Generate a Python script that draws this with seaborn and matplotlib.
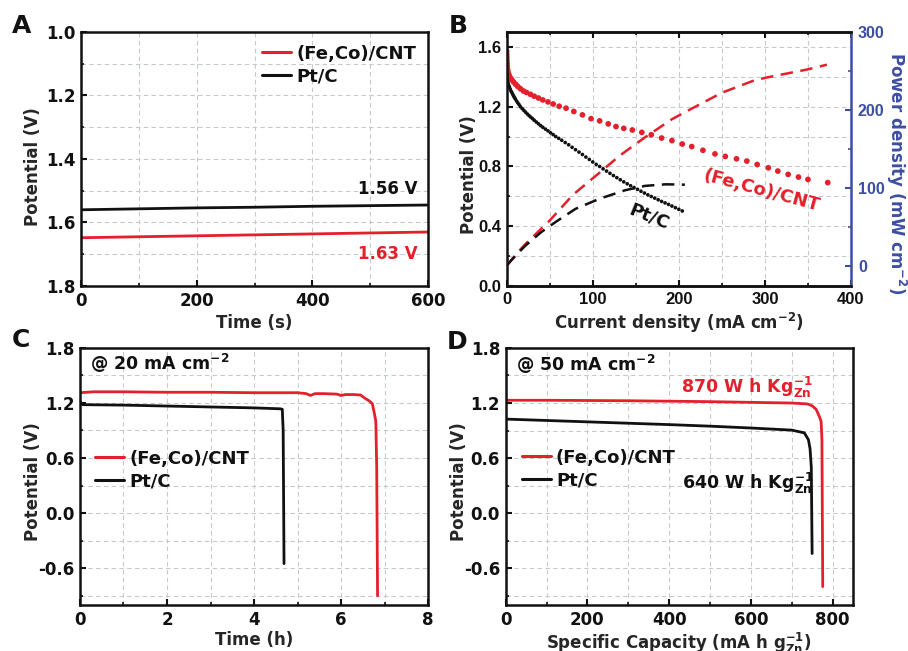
import matplotlib
matplotlib.use("Agg")
import matplotlib.pyplot as plt
import seaborn as sns
from matplotlib.ticker import MultipleLocator, FormatStrFormatter

RED = "#e3202b"
BLACK = "#111111"
BLUE = "#3d4ea3"
GRID = "#c5c9d0"

# ---------------- Panel A: charge potential vs time ----------------
time_s = [0, 100, 200, 300, 400, 500, 600]
charge_feco = [1.648, 1.645, 1.642, 1.639, 1.636, 1.633, 1.630]
charge_ptc = [1.560, 1.557, 1.554, 1.552, 1.549, 1.547, 1.545]

# ---------------- Panel B: polarization and power density ----------------
pol_j_feco = [0.0, 0.1, 0.2, 0.3, 0.5, 0.7, 1.0, 1.4, 2.0, 2.7, 3.5, 4.5, 6, 8,
              10.5, 13, 16, 19.5, 23, 27.5, 32, 37, 42, 48, 54, 61, 69, 78, 88,
              98, 108, 118, 127, 136, 146, 157, 168, 180, 192, 204, 215, 228,
              242, 254, 267, 279, 291, 304, 315, 327, 339, 350, 373]
pol_v_feco = [1.57, 1.55, 1.53, 1.51, 1.49, 1.47, 1.45, 1.435, 1.42, 1.41, 1.40,
              1.39, 1.38, 1.365, 1.35, 1.335, 1.32, 1.305, 1.295, 1.283, 1.27,
              1.258, 1.245, 1.232, 1.218, 1.203, 1.19, 1.168, 1.145, 1.12, 1.105,
              1.085, 1.067, 1.055, 1.044, 1.028, 1.012, 0.99, 0.973, 0.95, 0.933,
              0.908, 0.884, 0.867, 0.851, 0.836, 0.813, 0.791, 0.769, 0.747,
              0.729, 0.713, 0.692]

pol_j_ptc = [0, 0.3, 0.6, 1.0, 1.5, 2, 3, 4, 5, 6, 7, 8, 9, 10, 11.5, 13, 14.5,
             16, 18, 20, 22, 24, 26, 28, 30, 32, 34.5, 37, 39.5, 42, 45, 48, 51,
             54, 57, 60.5, 64, 68, 72, 76, 80, 84, 88, 92, 96, 100, 104, 108,
             112, 116, 120, 124, 128, 132, 136, 140, 144, 148, 152, 156, 160,
             164, 168, 172, 176, 180, 184, 188, 192, 196, 200, 204]
pol_v_ptc = [1.42, 1.40, 1.385, 1.37, 1.36, 1.35, 1.335, 1.32, 1.305, 1.295,
             1.283, 1.272, 1.262, 1.252, 1.238, 1.225, 1.213, 1.20, 1.187, 1.175,
             1.163, 1.151, 1.14, 1.13, 1.12, 1.109, 1.097, 1.085, 1.073, 1.062,
             1.05, 1.038, 1.025, 1.013, 1.0, 0.988, 0.975, 0.96, 0.945, 0.928,
             0.912, 0.896, 0.88, 0.863, 0.847, 0.83, 0.814, 0.80, 0.784, 0.769,
             0.754, 0.739, 0.725, 0.711, 0.697, 0.684, 0.671, 0.659, 0.647,
             0.634, 0.622, 0.61, 0.599, 0.588, 0.577, 0.566, 0.556, 0.546,
             0.535, 0.524, 0.513, 0.502]

pow_j_feco = [0, 10, 21, 50, 77, 108, 131, 161, 192, 219, 250, 288, 304, 327, 350, 372]
pow_p_feco = [0, 13.5, 27, 58, 91, 119.5, 141, 165, 188, 204, 222, 238, 242, 247, 252, 258]
pow_j_ptc = [0, 5, 21, 40, 58, 80, 108, 138, 161, 185, 207]
pow_p_ptc = [0, 6.5, 25, 43, 57, 73, 86, 97, 102.5, 104.5, 104]

# ---------------- Panel C: discharge at 20 mA cm-2 ----------------
t_h_feco = [0, 0.3, 1, 2, 3, 4, 5, 5.2, 5.3, 5.4, 5.6, 5.9, 6.0, 6.1, 6.3, 6.45,
            6.55, 6.65, 6.72, 6.76, 6.78, 6.80, 6.82, 6.84]
dis_c_feco = [1.31, 1.32, 1.32, 1.315, 1.315, 1.31, 1.31, 1.30, 1.28, 1.30, 1.30,
              1.295, 1.28, 1.29, 1.29, 1.285, 1.25, 1.22, 1.19, 1.10, 1.05, 1.00,
              0.50, -0.90]
t_h_ptc = [0, 0.03, 0.06, 1, 2, 3, 4, 4.6, 4.65, 4.67, 4.69]
dis_c_ptc = [1.22, 1.19, 1.18, 1.175, 1.165, 1.155, 1.145, 1.135, 1.13, 0.90, -0.55]

# ---------------- Panel D: specific capacity at 50 mA cm-2 ----------------
cap_feco = [0, 100, 300, 500, 700, 739, 750, 760, 768, 772, 774, 776]
dis_d_feco = [1.23, 1.23, 1.225, 1.215, 1.20, 1.19, 1.17, 1.13, 1.05, 1.0, 0.8, -0.80]
cap_ptc = [0, 100, 200, 300, 400, 500, 600, 700, 731, 741, 745, 748, 750]
dis_d_ptc = [1.025, 1.01, 0.995, 0.98, 0.965, 0.948, 0.928, 0.905, 0.875, 0.80,
             0.70, 0.50, -0.44]

energy_feco = 870
energy_ptc = 640

sns.set_theme(style="ticks")
plt.rcParams.update({
    "font.family": ["DejaVu Sans"],
    "font.weight": "bold",
    "axes.labelweight": "bold",
    "mathtext.fontset": "dejavusans",
    "mathtext.default": "bf",
    "axes.unicode_minus": False,
    "axes.linewidth": 1.8,
    "axes.edgecolor": BLACK,
    "xtick.direction": "in",
    "ytick.direction": "in",
    "xtick.major.size": 4.5,
    "ytick.major.size": 4.5,
    "xtick.minor.size": 2.5,
    "ytick.minor.size": 2.5,
    "xtick.major.width": 1.5,
    "ytick.major.width": 1.5,
    "xtick.minor.width": 1.2,
    "ytick.minor.width": 1.2,
    "xtick.color": BLACK,
    "ytick.color": BLACK,
    "xtick.labelsize": 12,
    "ytick.labelsize": 12,
    "axes.labelsize": 12,
    "text.color": BLACK,
})

fig = plt.figure(figsize=(9.08, 6.51), dpi=100)
axA = fig.add_axes([0.0892, 0.5607, 0.3822, 0.3902])
axB = fig.add_axes([0.558, 0.5607, 0.3792, 0.3902])
axC = fig.add_axes([0.0881, 0.0707, 0.3833, 0.3952])
axD = fig.add_axes([0.5569, 0.0707, 0.3825, 0.3948])


def style_grid(ax):
    ax.set_axisbelow(True)
    ax.grid(which="both", color=GRID, lw=0.8, ls=(0, (4, 3)))
    ax.tick_params(which="both", pad=4)


def potential_label(ax, x, y):
    ax.set_ylabel("Potential (V)", va="center")
    ax.yaxis.set_label_coords(x, y)


def add_legend(ax, anchor, loc):
    leg = ax.legend(loc=loc, bbox_to_anchor=anchor, frameon=False,
                    fontsize=13, handlelength=1.6, handletextpad=0.3,
                    labelspacing=0.25, borderpad=0, borderaxespad=0)
    for line in leg.get_lines():
        line.set_linewidth(2.2)
    return leg


# ---- A ----
sns.lineplot(x=time_s, y=charge_feco, ax=axA, color=RED, lw=2,
             label="(Fe,Co)/CNT", estimator=None, sort=False)
sns.lineplot(x=time_s, y=charge_ptc, ax=axA, color=BLACK, lw=2,
             label="Pt/C", estimator=None, sort=False)
axA.set_xlim(0, 600)
axA.set_ylim(1.8, 1.0)
axA.xaxis.set_major_locator(MultipleLocator(200))
axA.xaxis.set_minor_locator(MultipleLocator(100))
axA.yaxis.set_major_locator(MultipleLocator(0.2))
axA.yaxis.set_minor_locator(MultipleLocator(0.1))
axA.yaxis.set_major_formatter(FormatStrFormatter("%.1f"))
style_grid(axA)
axA.set_xlabel("Time (s)", labelpad=3)
potential_label(axA, -0.138, 0.47)
add_legend(axA, (0.965, 0.95), "upper right")
axA.text(582, 1.511, f"{charge_ptc[0]:.2f} V", color=BLACK, fontsize=12,
         ha="right", va="baseline", fontweight="bold")
axA.text(582, 1.715, f"{charge_feco[-1]:.2f} V", color=RED, fontsize=12,
         ha="right", va="baseline", fontweight="bold")

# ---- B ----
axB2 = axB.twinx()
sns.scatterplot(x=pol_j_feco, y=pol_v_feco, ax=axB, color=RED, s=17,
                edgecolor="none", linewidth=0)
sns.scatterplot(x=pol_j_ptc, y=pol_v_ptc, ax=axB, color=BLACK, s=7,
                edgecolor="none", linewidth=0)
power_dash = (0, (5, 3))
sns.lineplot(x=pow_j_feco, y=pow_p_feco, ax=axB2, color=RED, lw=1.8,
             estimator=None, sort=False, linestyle=power_dash)
sns.lineplot(x=pow_j_ptc, y=pow_p_ptc, ax=axB2, color=BLACK, lw=1.8,
             estimator=None, sort=False, linestyle=power_dash)
axB.set_xlim(0, 400)
axB.set_ylim(0, 1.7)
axB2.set_ylim(-26, 300)
axB.xaxis.set_major_locator(MultipleLocator(100))
axB.xaxis.set_minor_locator(MultipleLocator(50))
axB.yaxis.set_major_locator(MultipleLocator(0.4))
axB.yaxis.set_minor_locator(MultipleLocator(0.2))
axB.yaxis.set_major_formatter(FormatStrFormatter("%.1f"))
axB2.yaxis.set_major_locator(MultipleLocator(100))
axB2.yaxis.set_minor_locator(MultipleLocator(50))
style_grid(axB)
axB.tick_params(which="both", top=True, labelsize=12)
axB2.tick_params(which="both", colors=BLUE, pad=5, labelsize=11.5)
axB2.spines["right"].set_color(BLUE)
axB2.spines["right"].set_linewidth(1.8)
axB.spines["right"].set_visible(False)
axB2.spines["left"].set_visible(False)
axB.set_xlabel("Current density (mA cm$^{-2}$)", labelpad=3)
potential_label(axB, -0.11, 0.44)
axB2.set_ylabel("Power density (mW cm$^{-2}$)", color=BLUE, rotation=270,
                va="center", fontsize=12)
axB2.yaxis.set_label_coords(1.131, 0.445)
axB.text(296, 0.64, "(Fe,Co)/CNT", color=RED, fontsize=13, rotation=-15,
         ha="center", va="center", fontweight="bold")
axB.text(165, 0.46, "Pt/C", color=BLACK, fontsize=13, rotation=-22,
         ha="center", va="center", fontweight="bold")

# ---- C ----
sns.lineplot(x=t_h_feco, y=dis_c_feco, ax=axC, color=RED, lw=2,
             label="(Fe,Co)/CNT", estimator=None, sort=False)
sns.lineplot(x=t_h_ptc, y=dis_c_ptc, ax=axC, color=BLACK, lw=2,
             label="Pt/C", estimator=None, sort=False)
axC.set_xlim(0, 8)
axC.set_ylim(-1.0, 1.8)
axC.xaxis.set_major_locator(MultipleLocator(2))
axC.xaxis.set_minor_locator(MultipleLocator(1))
axC.yaxis.set_major_locator(MultipleLocator(0.6))
axC.yaxis.set_minor_locator(MultipleLocator(0.3))
axC.yaxis.set_major_formatter(FormatStrFormatter("%.1f"))
style_grid(axC)
axC.set_xlabel("Time (h)", labelpad=2)
potential_label(axC, -0.134, 0.48)
add_legend(axC, (0.043, 0.525), "center left")
axC.text(0.23, 1.557, "@ 20 mA cm$^{-2}$", fontsize=12.5, ha="left",
         va="baseline", fontweight="bold")

# ---- D ----
sns.lineplot(x=cap_feco, y=dis_d_feco, ax=axD, color=RED, lw=2,
             label="(Fe,Co)/CNT", estimator=None, sort=False)
sns.lineplot(x=cap_ptc, y=dis_d_ptc, ax=axD, color=BLACK, lw=2,
             label="Pt/C", estimator=None, sort=False)
axD.set_xlim(0, 850)
axD.set_ylim(-1.0, 1.8)
axD.xaxis.set_major_locator(MultipleLocator(200))
axD.xaxis.set_minor_locator(MultipleLocator(100))
axD.yaxis.set_major_locator(MultipleLocator(0.6))
axD.yaxis.set_minor_locator(MultipleLocator(0.3))
axD.yaxis.set_major_formatter(FormatStrFormatter("%.1f"))
style_grid(axD)
axD.set_xlabel("Specific Capacity (mA h g$_{Zn}^{-1}$)", labelpad=2)
potential_label(axD, -0.134, 0.48)
add_legend(axD, (0.046, 0.529), "center left")
axD.text(24.5, 1.553, "@ 50 mA cm$^{-2}$", fontsize=12.5, ha="left",
         va="baseline", fontweight="bold")
axD.text(428, 1.313, f"{energy_feco} W h Kg$_{{Zn}}^{{-1}}$", color=RED,
         fontsize=12.5, ha="left", va="baseline", fontweight="bold")
axD.text(431, 0.261, f"{energy_ptc} W h Kg$_{{Zn}}^{{-1}}$", color=BLACK,
         fontsize=12.5, ha="left", va="baseline", fontweight="bold")

# Narrower face for the tick numbers of the polarization panel
for lbl in (axB.get_xticklabels() + axB.get_yticklabels()
            + axB2.get_yticklabels()):
    lbl.set_fontfamily("Liberation Sans")

# Panel letters
for letter, (x, y) in zip("ABCD", [(0.0242, 0.960), (0.5044, 0.960),
                                   (0.0231, 0.478), (0.503, 0.4747)]):
    fig.text(x, y, letter, fontsize=18, fontweight="bold", ha="center",
             va="center")

fig.savefig("out.png", dpi=100)
